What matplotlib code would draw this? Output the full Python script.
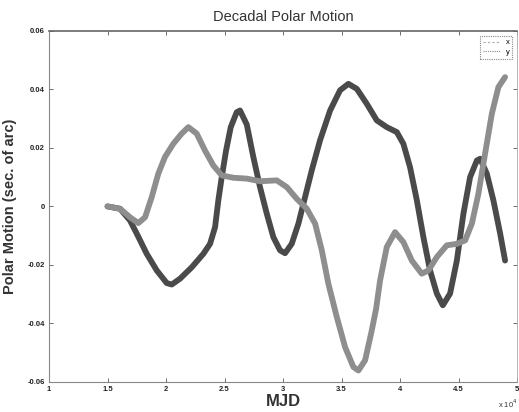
import matplotlib
matplotlib.use("Agg")
import matplotlib.pyplot as plt
from matplotlib.lines import Line2D

plt.rcParams["font.family"] = ["Liberation Sans", "DejaVu Sans"]

# MJD (x 10^4) and polar motion (arcsec)
mjd_dark = [1.5, 1.607, 1.692, 1.75, 1.835, 1.921, 2.006, 2.049, 2.12, 2.22, 2.319, 2.376,
            2.419, 2.447, 2.476, 2.513, 2.553, 2.604, 2.632, 2.69, 2.746, 2.803, 2.861,
            2.917, 2.974, 3.017, 3.074, 3.131, 3.188, 3.245, 3.316, 3.402, 3.487, 3.558,
            3.63, 3.715, 3.801, 3.886, 3.972, 4.028, 4.085, 4.143, 4.199, 4.256, 4.314,
            4.365, 4.427, 4.485, 4.541, 4.598, 4.656, 4.684, 4.741, 4.797, 4.855, 4.897]
pm_dark = [0.0, -0.0008, -0.0048, -0.0093, -0.0162, -0.0219, -0.0262, -0.0267, -0.0247,
           -0.0208, -0.0162, -0.0128, -0.0071, 0.0021, 0.0100, 0.0191, 0.0271, 0.0322,
           0.0328, 0.0280, 0.0169, 0.0066, -0.0025, -0.0105, -0.0150, -0.0160, -0.0128,
           -0.0059, 0.0032, 0.0123, 0.0226, 0.0328, 0.0397, 0.0419, 0.0402, 0.0351,
           0.0294, 0.0271, 0.0254, 0.0214, 0.0134, 0.0021, -0.0105, -0.0219, -0.0298,
           -0.0338, -0.0298, -0.0185, -0.0025, 0.0100, 0.0157, 0.0163, 0.0112, 0.0021,
           -0.0093, -0.0185]

mjd_light = [1.5, 1.607, 1.692, 1.763, 1.821, 1.878, 1.934, 1.991, 2.062, 2.134, 2.191,
             2.262, 2.333, 2.404, 2.476, 2.575, 2.69, 2.803, 2.946, 3.032, 3.117, 3.203,
             3.274, 3.331, 3.387, 3.459, 3.53, 3.601, 3.644, 3.701, 3.758, 3.795, 3.829,
             3.886, 3.957, 4.028, 4.1, 4.185, 4.242, 4.314, 4.399, 4.485, 4.556, 4.613,
             4.669, 4.726, 4.784, 4.84, 4.897]
pm_light = [0.0, -0.0008, -0.0037, -0.0057, -0.0037, 0.0032, 0.0112, 0.0169, 0.0214, 0.0249,
            0.0271, 0.0249, 0.0191, 0.0140, 0.0106, 0.0098, 0.0095, 0.0086, 0.0089, 0.0066,
            0.0026, -0.0008, -0.0059, -0.0150, -0.0264, -0.0378, -0.0481, -0.0549, -0.0561,
            -0.0526, -0.0424, -0.0350, -0.0253, -0.0139, -0.0088, -0.0122, -0.0185, -0.0230,
            -0.0219, -0.0173, -0.0133, -0.0128, -0.0116, -0.0059, 0.0043, 0.0180, 0.0317,
            0.0408, 0.0442]

xticks = [1, 1.5, 2, 2.5, 3, 3.5, 4, 4.5, 5]
xticklabels = ["1", "1.5", "2", "2.5", "3", "3.5", "4", "4.5", "5"]
yticks = [-0.06, -0.04, -0.02, 0, 0.02, 0.04, 0.06]
yticklabels = ["-0.06", "-0.04", "-0.02", "0", "0.02", "0.04", "0.06"]

fig = plt.figure(figsize=(5.19, 4.12), dpi=100)
ax = fig.add_axes([0.0944, 0.073, 0.902, 0.852])

ax.plot(mjd_dark, pm_dark, color="#4a4a4a", lw=4.2, solid_capstyle="round", solid_joinstyle="round")
ax.plot(mjd_light, pm_light, color="#8e8e8e", lw=4.2, solid_capstyle="round", solid_joinstyle="round")

ax.set_xlim(1, 5)
ax.set_ylim(-0.06, 0.06)
ax.set_xticks(xticks)
ax.set_xticklabels(xticklabels)
ax.set_yticks(yticks)
ax.set_yticklabels(yticklabels)
ax.tick_params(direction="in", length=3, width=0.6, colors="#555555", labelsize=5.5,
               top=True, right=True, labelcolor="#222222", pad=3)
for lab in ax.get_xticklabels() + ax.get_yticklabels():
    lab.set_fontweight("bold")

for side in ["left", "bottom"]:
    ax.spines[side].set_linestyle((0, (1, 1)))
    ax.spines[side].set_color("#888888")
    ax.spines[side].set_linewidth(0.8)
ax.spines["top"].set_color("#666666")
ax.spines["top"].set_linewidth(1.2)
ax.spines["right"].set_color("#aaaaaa")
ax.spines["right"].set_linewidth(0.6)

ax.set_title("Decadal Polar Motion", fontsize=10.5, color="#333333", pad=7)
ax.set_xlabel("MJD", fontsize=12, fontweight="bold", color="#333333", labelpad=1)
ax.set_ylabel("Polar Motion (sec. of arc)", fontsize=10.5, fontweight="bold", color="#333333")
ax.yaxis.set_label_coords(-0.068, 0.5)
ax.text(1.0, -0.045, r"x 10$^4$", transform=ax.transAxes, fontsize=5.5, ha="right", va="top",
        color="#333333")

handles = [Line2D([0], [0], color="#aaaaaa", lw=0.8, ls=(0, (2, 2))),
           Line2D([0], [0], color="#888888", lw=0.8, ls=(0, (1, 1)))]
leg = ax.legend(handles, ["x", "y"], loc="upper right", fontsize=5.5, handlelength=2.2,
                fancybox=False, framealpha=1, borderpad=0.35, labelspacing=0.3,
                bbox_to_anchor=(0.998, 0.995))
leg.get_frame().set_edgecolor("#888888")
leg.get_frame().set_linestyle((0, (1, 1)))
leg.get_frame().set_linewidth(0.8)

fig.savefig("out.png", dpi=100)
